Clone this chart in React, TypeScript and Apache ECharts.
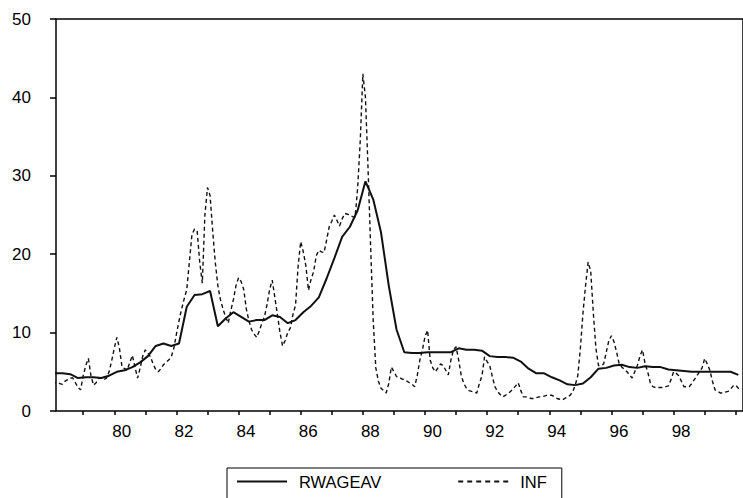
import React, { useEffect, useRef } from "react";
import * as echarts from "echarts";

// Monthly inflation (INF), 1978M1 .. 2000M3
const START_YEAR = 1978;
const infMonthly = [
  3.5, 3.6, 3.6, 3.5, 3.4, 3.8, 4.0, 4.2, 4.2, 3.6, 3.0, 2.7, // 1978
  4.5, 5.8, 6.7, 4.5, 3.3, 3.6, 4.2, 4.2, 4.0, 4.2, 5.0, 6.4, // 1979
  8.0, 9.4, 8.0, 5.6, 5.4, 5.2, 6.2, 7.1, 5.6, 4.2, 5.5, 7.0, // 1980
  7.8, 7.4, 6.9, 6.0, 5.3, 5.0, 5.4, 5.9, 6.2, 6.5, 6.9, 8.0, // 1981
  9.8, 11.5, 13.0, 14.3, 15.5, 19.0, 22.5, 23.2, 23.0, 19.0, 16.3, 25.0, // 1982
  28.5, 27.5, 23.0, 19.0, 16.0, 14.2, 13.0, 12.0, 11.2, 12.8, 14.2, 16.0, // 1983
  17.0, 16.5, 15.5, 13.0, 11.5, 10.4, 9.8, 9.4, 10.2, 11.2, 12.0, 13.6, // 1984
  15.5, 16.7, 14.5, 12.3, 10.0, 8.3, 9.0, 10.0, 10.6, 12.3, 13.5, 18.5, // 1985
  21.6, 20.3, 18.5, 15.4, 16.8, 17.8, 19.8, 20.5, 20.3, 20.2, 21.8, 23.5, // 1986
  24.2, 25.0, 24.3, 23.6, 24.5, 25.2, 25.1, 25.0, 24.8, 24.7, 28.5, 34.5, // 1987
  43.0, 40.0, 31.0, 21.0, 11.5, 5.5, 3.8, 2.9, 2.6, 2.3, 3.5, 5.6, // 1988
  5.0, 4.4, 4.3, 4.1, 4.0, 3.8, 3.6, 3.4, 3.1, 4.5, 6.5, 7.8, // 1989
  9.5, 10.3, 6.5, 5.5, 5.0, 5.5, 6.0, 5.8, 5.2, 4.6, 6.5, 7.8, // 1990
  8.2, 6.5, 4.5, 3.5, 2.9, 2.6, 2.5, 2.4, 2.3, 3.5, 4.5, 6.9, // 1991
  6.3, 5.8, 4.4, 3.1, 2.5, 2.1, 1.8, 2.0, 2.2, 2.5, 2.8, 3.2, // 1992
  3.6, 2.6, 1.8, 1.8, 1.7, 1.6, 1.6, 1.7, 1.8, 1.8, 1.9, 2.0, // 1993
  2.0, 2.0, 1.8, 1.6, 1.5, 1.4, 1.6, 1.8, 2.0, 2.4, 3.3, 4.5, // 1994
  8.0, 12.5, 16.0, 19.0, 17.8, 12.5, 8.0, 5.8, 5.8, 6.0, 7.5, 9.0, // 1995
  9.6, 8.8, 7.5, 6.0, 5.6, 5.3, 5.0, 4.6, 4.2, 5.0, 5.8, 7.0, // 1996
  7.8, 6.0, 5.0, 3.6, 3.1, 3.0, 3.0, 3.0, 3.0, 3.1, 3.2, 4.0, // 1997
  5.0, 4.8, 4.5, 3.8, 3.1, 3.1, 3.1, 3.5, 4.0, 4.5, 5.0, 5.5, // 1998
  6.7, 6.0, 5.2, 3.8, 2.7, 2.5, 2.3, 2.3, 2.4, 2.5, 2.8, 3.2, // 1999
  3.3, 2.9, 2.7, // 2000
];

// Quarterly average real wage (RWAGEAV), 1978Q1 .. 2000Q1
const rwageavQuarterly = [
  4.8, 4.8, 4.7, 4.2, // 1978
  4.3, 4.3, 4.2, 4.5, // 1979
  5.0, 5.2, 5.6, 6.2, // 1980
  7.0, 8.3, 8.6, 8.3, // 1981
  8.6, 13.3, 14.8, 14.9, // 1982
  15.3, 10.8, 11.8, 12.6, // 1983
  12.0, 11.4, 11.6, 11.6, // 1984
  12.2, 12.0, 11.2, 11.6, // 1985
  12.6, 13.4, 14.5, 16.9, // 1986
  19.5, 22.2, 23.5, 25.6, // 1987
  29.3, 27.0, 22.8, 16.0, // 1988
  10.4, 7.5, 7.4, 7.4, // 1989
  7.5, 7.5, 7.5, 7.5, // 1990
  8.0, 7.8, 7.8, 7.7, // 1991
  7.0, 6.9, 6.9, 6.8, // 1992
  6.3, 5.4, 4.8, 4.8, // 1993
  4.3, 3.9, 3.4, 3.3, // 1994
  3.5, 4.3, 5.4, 5.5, // 1995
  5.8, 5.9, 5.6, 5.5, // 1996
  5.7, 5.6, 5.6, 5.3, // 1997
  5.2, 5.1, 5.0, 5.0, // 1998
  5.0, 5.0, 5.0, 5.0, // 1999
  4.6, // 2000
];

const tickYears = [
  1979, 1980, 1981, 1982, 1983, 1984, 1985, 1986, 1987, 1988, 1989,
  1990, 1991, 1992, 1993, 1994, 1995, 1996, 1997, 1998, 1999, 2000,
];
const labelYears = [1980, 1982, 1984, 1986, 1988, 1990, 1992, 1994, 1996, 1998];
const seriesNames = ["RWAGEAV", "INF"];

// legend glyphs: a solid bar and a row of dashes
const SOLID_ICON = "rect";
const DASHED_ICON =
  "path://M0,0h5v2h-5z M9,0h5v2h-5z M18,0h5v2h-5z M27,0h5v2h-5z M36,0h5v2h-5z M45,0h5v2h-5z";

export default function App() {
  const ref = useRef<HTMLDivElement>(null);

  useEffect(() => {
    if (!ref.current) return;
    const chart = echarts.init(ref.current, null, { renderer: "svg" });
    const font = "'Liberation Sans', Arial, Helvetica, sans-serif";
    const toMonth = (y: number) => (y - START_YEAR) * 12;

    chart.setOption({
      animation: false,
      backgroundColor: "#ffffff",
      grid: {
        left: 56,
        right: 0,
        top: 19,
        bottom: 87,
        show: true,
        borderColor: "#000",
        borderWidth: 1.5,
        backgroundColor: "transparent",
      },
      legend: {
        data: [
          { name: seriesNames[0], icon: SOLID_ICON },
          { name: seriesNames[1], icon: DASHED_ICON },
        ],
        left: 227,
        top: 468,
        orient: "horizontal",
        itemWidth: 50,
        itemHeight: 2,
        itemGap: 77,
        padding: [5, 15, 12, 10],
        borderColor: "#000",
        borderWidth: 1,
        selectedMode: false,
        itemStyle: { color: "#111", borderWidth: 0 },
        textStyle: {
          fontFamily: font,
          fontSize: 16.5,
          color: "#000",
          padding: [0, 0, 0, 7],
        },
      },
      xAxis: {
        type: "value",
        min: 1.5,
        max: 266.8,
        axisLine: { show: false },
        splitLine: { show: false },
        axisTick: {
          show: true,
          length: 4,
          inside: false,
          customValues: tickYears.map(toMonth),
          lineStyle: { color: "#000", width: 1.5 },
        },
        axisLabel: {
          customValues: labelYears.map(toMonth),
          formatter: (v: number) =>
            String(Math.round(START_YEAR + v / 12) % 100).padStart(2, "0"),
          fontFamily: font,
          fontSize: 17,
          color: "#000",
          margin: 12,
          padding: [0, 0, 0, 15],
        },
      },
      yAxis: {
        type: "value",
        min: 0,
        max: 50,
        interval: 10,
        axisLine: { show: false },
        splitLine: { show: false },
        axisTick: {
          show: true,
          length: 6,
          inside: false,
          lineStyle: { color: "#000", width: 1.5 },
        },
        axisLabel: {
          fontFamily: font,
          fontSize: 17,
          color: "#000",
          margin: 25,
        },
      },
      series: [
        {
          name: seriesNames[0],
          type: "line",
          data: rwageavQuarterly.map((v, i) => [i * 3 + 1, v]),
          symbol: "none",
          showSymbol: false,
          lineStyle: { color: "#111", width: 2 },
          itemStyle: { color: "#111" },
          z: 3,
        },
        {
          name: seriesNames[1],
          type: "line",
          data: infMonthly.map((v, m) => [m, v]),
          symbol: "none",
          showSymbol: false,
          lineStyle: { color: "#111", width: 1.4, type: [4, 3] },
          itemStyle: { color: "#111" },
          z: 2,
        },
      ],
    });

    return () => {
      chart.dispose();
    };
  }, []);

  return (
    <div
      ref={ref}
      style={{
        position: "absolute",
        left: 0,
        top: 0,
        width: 743,
        height: 498,
        background: "#fff",
      }}
    />
  );
}
